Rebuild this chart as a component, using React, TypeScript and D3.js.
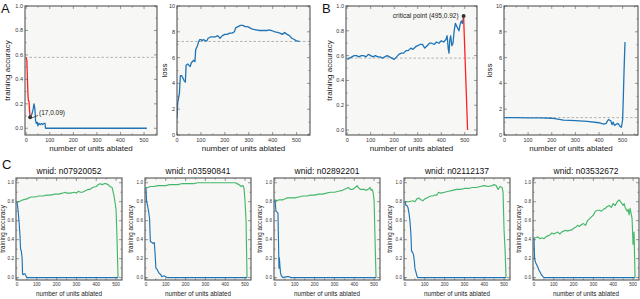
import React from "react";
import * as d3 from "d3";

type P = [number, number];

const xTicks = [0, 100, 200, 300, 400, 500];
const accTicks = [0, 0.2, 0.4, 0.6, 0.8, 1.0];
const lossTicks = [0, 2, 4, 6, 8, 10];

// Panel A
const aAccRed: P[] = [[0,0.58],[3,0.55],[5,0.42],[7,0.30],[9,0.23],[12,0.22],[14,0.15],[17,0.09]];
const aAccBlue: P[] = [[17,0.09],[20,0.10],[25,0.12],[30,0.16],[33,0.20],[36,0.17],[38,0.13],[40,0.06],[43,0.04],[47,0.05],[50,0.02],[55,0.04],[60,0.03],[65,0.04],[70,0.03],[75,0.04],[80,0.04],[82,0.0],[512,0.0]];
const aBaseline = 0.58;
const aLoss: P[] = [[0,1.3],[3,2.5],[6,2.8],[10,3.2],[14,4.6],[20,4.6],[25,4.4],[30,4.2],[35,4.1],[38,5.4],[45,5.5],[50,5.4],[55,5.3],[60,5.6],[65,5.7],[70,5.8],[75,5.7],[78,6.6],[85,6.9],[90,7.2],[95,7.4],[100,7.4],[105,7.3],[110,7.4],[120,7.3],[125,7.3],[130,7.5],[140,7.6],[150,7.6],[160,7.6],[170,7.7],[180,7.5],[190,7.7],[200,7.8],[210,7.8],[220,7.9],[230,7.9],[240,8.0],[245,8.3],[255,8.4],[265,8.5],[275,8.5],[285,8.4],[295,8.4],[305,8.3],[315,8.2],[330,8.15],[345,8.1],[360,8.1],[375,8.1],[385,8.15],[395,8.1],[410,8.0],[420,7.95],[430,7.9],[440,7.8],[450,7.95],[460,7.8],[470,7.7],[480,7.5],[490,7.4],[500,7.3],[512,7.25]];
const aLossBaseline = 7.25;

// Panel B
const bAccBlue: P[] = [[0,0.57],[10,0.58],[20,0.59],[30,0.60],[40,0.60],[50,0.59],[60,0.60],[70,0.60],[80,0.59],[90,0.61],[100,0.60],[110,0.59],[120,0.60],[130,0.59],[140,0.59],[150,0.58],[160,0.59],[170,0.60],[180,0.59],[190,0.58],[200,0.57],[210,0.59],[220,0.61],[230,0.62],[240,0.62],[250,0.64],[260,0.64],[270,0.66],[280,0.65],[290,0.67],[300,0.68],[310,0.69],[320,0.69],[330,0.66],[340,0.68],[350,0.70],[360,0.70],[370,0.69],[380,0.71],[390,0.70],[400,0.72],[410,0.71],[420,0.73],[425,0.76],[430,0.65],[433,0.62],[436,0.72],[440,0.76],[445,0.68],[450,0.70],[455,0.80],[460,0.86],[465,0.84],[470,0.82],[475,0.80],[480,0.85],[485,0.88],[490,0.86],[495,0.92]];
const bAccRed: P[] = [[495,0.92],[512,0.0]];
const bBaseline = 0.58;
const bLoss: P[] = [[0,1.35],[50,1.35],[100,1.33],[150,1.32],[200,1.3],[250,1.15],[300,1.12],[350,1.05],[400,0.95],[420,0.85],[430,0.9],[440,1.2],[450,1.1],[455,0.8],[460,1.0],[465,0.75],[470,0.8],[480,0.9],[490,0.65],[495,0.6],[500,1.2],[503,3.0],[506,5.0],[510,7.2]];
const bLossBaseline = 1.35;

// Panel C
const cTitles = ["wnid: n07920052","wnid: n03590841","wnid: n02892201","wnid: n02112137","wnid: n03532672"];
const c1Green: P[] = [[0,0.80],[10,0.80],[20,0.81],[30,0.82],[50,0.83],[70,0.85],[90,0.85],[110,0.86],[130,0.86],[150,0.87],[170,0.87],[190,0.88],[210,0.88],[230,0.89],[245,0.90],[250,0.89],[270,0.89],[290,0.90],[300,0.89],[310,0.91],[320,0.90],[330,0.90],[340,0.91],[350,0.92],[360,0.93],[370,0.93],[380,0.95],[400,0.96],[410,0.98],[420,0.99],[430,0.98],[440,0.99],[450,0.99],[460,0.98],[470,0.96],[480,0.95],[490,0.86],[500,0.72],[505,0.4],[510,0.0]];
const c1Blue: P[] = [[0,0.80],[5,0.72],[10,0.60],[15,0.45],[18,0.30],[22,0.28],[26,0.20],[28,0.05],[30,0.03],[35,0.04],[40,0.04],[45,0.02],[50,0.0],[510,0.0]];
const c2Green: P[] = [[0,0.95],[10,0.95],[20,0.96],[40,0.96],[60,0.97],[80,0.97],[100,0.97],[120,0.98],[140,0.98],[160,0.98],[180,0.99],[200,0.99],[220,0.99],[240,0.99],[260,1.0],[300,1.0],[350,1.0],[400,1.0],[450,1.0],[470,0.98],[480,0.96],[490,0.97],[495,0.94],[500,0.80],[505,0.6],[510,0.0]];
const c2Blue: P[] = [[0,0.95],[3,0.80],[8,0.76],[13,0.70],[18,0.62],[22,0.38],[30,0.37],[36,0.36],[42,0.37],[46,0.25],[50,0.10],[55,0.09],[60,0.07],[65,0.05],[75,0.03],[80,0.01],[90,0.02],[100,0.01],[108,0.0],[510,0.0]];
const c3Green: P[] = [[0,0.82],[10,0.81],[20,0.82],[40,0.82],[60,0.84],[80,0.84],[100,0.84],[120,0.85],[140,0.86],[160,0.86],[180,0.87],[200,0.87],[220,0.88],[240,0.88],[260,0.89],[280,0.90],[300,0.90],[320,0.91],[340,0.92],[360,0.94],[370,0.95],[380,0.93],[390,0.93],[400,0.94],[410,0.96],[415,0.97],[420,0.95],[430,0.93],[440,0.93],[450,0.93],[460,0.92],[470,0.93],[480,0.95],[485,0.92],[490,0.93],[495,0.90],[500,0.82],[505,0.4],[510,0.0]];
const c3Blue: P[] = [[0,0.82],[5,0.70],[10,0.69],[15,0.68],[18,0.35],[20,0.10],[22,0.21],[25,0.12],[28,0.05],[32,0.02],[40,0.0],[60,0.01],[70,0.01],[80,0.0],[510,0.0]];
const c4Green: P[] = [[0,0.80],[20,0.80],[40,0.81],[50,0.80],[60,0.83],[70,0.84],[80,0.82],[90,0.81],[100,0.83],[110,0.84],[120,0.85],[130,0.86],[140,0.86],[150,0.87],[160,0.87],[170,0.90],[180,0.89],[200,0.90],[220,0.91],[240,0.92],[260,0.93],[280,0.93],[300,0.94],[320,0.94],[340,0.95],[360,0.95],[380,0.96],[400,0.97],[420,0.96],[440,0.97],[450,0.98],[460,0.97],[470,0.93],[480,0.96],[490,0.95],[495,0.90],[500,0.50],[505,0.3],[510,0.0]];
const c4Blue: P[] = [[0,0.80],[5,0.76],[10,0.76],[15,0.74],[20,0.68],[25,0.60],[30,0.45],[33,0.28],[38,0.27],[43,0.24],[47,0.18],[50,0.10],[55,0.06],[60,0.02],[65,0.0],[510,0.0]];
const c5Green: P[] = [[0,0.42],[10,0.42],[20,0.43],[30,0.41],[40,0.42],[50,0.41],[60,0.43],[70,0.44],[80,0.45],[90,0.47],[100,0.46],[110,0.47],[120,0.48],[130,0.46],[140,0.48],[150,0.49],[160,0.50],[170,0.49],[180,0.50],[190,0.50],[200,0.52],[210,0.53],[220,0.55],[230,0.54],[240,0.56],[250,0.57],[260,0.55],[270,0.60],[280,0.62],[290,0.64],[300,0.66],[310,0.70],[320,0.71],[330,0.71],[340,0.70],[350,0.72],[360,0.73],[370,0.75],[380,0.76],[390,0.74],[400,0.78],[410,0.76],[420,0.80],[430,0.82],[440,0.79],[450,0.76],[455,0.78],[460,0.74],[470,0.70],[475,0.72],[480,0.66],[485,0.73],[490,0.68],[495,0.62],[500,0.35],[505,0.48],[510,0.0]];
const c5Blue: P[] = [[0,0.42],[3,0.20],[8,0.16],[15,0.13],[25,0.08],[35,0.04],[45,0.01],[50,0.0],[510,0.0]];

const cGreens = [c1Green, c2Green, c3Green, c4Green, c5Green];
const cBlues = [c1Blue, c2Blue, c3Blue, c4Blue, c5Blue];

const BLUE = "#1f74b6";
const GREEN = "#44b86a";
const RED = "#ff2020";
const FRAME = "#555";
const BG = "#f7f7f5";
const FONT = "Liberation Sans, Arial, sans-serif";

type Series = { data: P[]; color: string };

function Panel(props: {
  left: number; right: number; top: number; bottom: number;
  xDomain: [number, number]; yDomain: [number, number];
  yTicks: number[]; yFmt: (v: number) => string; yMinorStep: number;
  series: Series[]; baseline?: number; lineWidth: number;
  ylabel: string; ylabelX: number; labelSize: number; tickSize: number;
  xlabelY: number; title?: string; titleY?: number;
  children?: (x: d3.ScaleLinear<number, number>, y: d3.ScaleLinear<number, number>) => React.ReactNode;
}) {
  const { left, right, top, bottom } = props;
  const x = d3.scaleLinear().domain(props.xDomain).range([left, right]);
  const y = d3.scaleLinear().domain(props.yDomain).range([bottom, top]);
  const line = d3.line<P>().x(d => x(d[0])).y(d => y(d[1]));
  const xMinor = d3.range(0, props.xDomain[1], 50).filter(v => v >= props.xDomain[0]);
  const yMinor = d3.range(props.yTicks[0], props.yDomain[1] + 1e-9, props.yMinorStep);
  const cx = (left + right) / 2;
  const cy = (top + bottom) / 2;
  const L = 3, l = 1.5;
  return (
    <g>
      <rect x={left} y={top} width={right - left} height={bottom - top} fill={BG} />
      {props.baseline !== undefined && (
        <line x1={left} x2={right} y1={y(props.baseline)} y2={y(props.baseline)} stroke="#aaa" strokeWidth={0.9} strokeDasharray="2.5,2" />
      )}
      <clipPath id={`clip-${left}-${top}`}>
        <rect x={left} y={top - 2} width={right - left} height={bottom - top + 4} />
      </clipPath>
      <g clipPath={`url(#clip-${left}-${top})`}>
        {props.series.map((s, i) => (
          <path key={i} d={line(s.data) || ""} fill="none" stroke={s.color} strokeWidth={props.lineWidth} strokeLinejoin="round" />
        ))}
      </g>
      {xMinor.map(v => {
        const major = v % 100 === 0;
        const len = major ? L : l;
        return (
          <g key={"xm" + v}>
            <line x1={x(v)} x2={x(v)} y1={bottom} y2={bottom - len} stroke={FRAME} strokeWidth={0.6} />
            <line x1={x(v)} x2={x(v)} y1={top} y2={top + len} stroke={FRAME} strokeWidth={0.6} />
          </g>
        );
      })}
      {yMinor.map((v, i) => {
        const major = props.yTicks.some(t => Math.abs(t - v) < 1e-6);
        const len = major ? L : l;
        return (
          <g key={"ym" + i}>
            <line x1={left} x2={left + len} y1={y(v)} y2={y(v)} stroke={FRAME} strokeWidth={0.6} />
            <line x1={right} x2={right - len} y1={y(v)} y2={y(v)} stroke={FRAME} strokeWidth={0.6} />
          </g>
        );
      })}
      {xTicks.map(v => (
        <text key={"xt" + v} x={x(v)} y={bottom + props.tickSize + 1} fontSize={props.tickSize} textAnchor="middle" fill="#333" fontFamily={FONT}>{v}</text>
      ))}
      {props.yTicks.map(v => (
        <text key={"yt" + v} x={left - 2} y={y(v) + props.tickSize * 0.35} fontSize={props.tickSize} textAnchor="end" fill="#333" fontFamily={FONT}>{props.yFmt(v)}</text>
      ))}
      <rect x={left} y={top} width={right - left} height={bottom - top} fill="none" stroke={FRAME} strokeWidth={1.1} />
      <text x={cx} y={props.xlabelY} fontSize={props.labelSize} textAnchor="middle" fill="#222" fontFamily={FONT}>number of units ablated</text>
      <text transform={`translate(${props.ylabelX},${cy}) rotate(-90)`} fontSize={props.labelSize} textAnchor="middle" fill="#222" fontFamily={FONT}>{props.ylabel}</text>
      {props.title && (
        <text x={cx} y={props.titleY} fontSize={8.5} textAnchor="middle" fill="#111" fontFamily={FONT}>{props.title}</text>
      )}
      {props.children && props.children(x, y)}
    </g>
  );
}

const f1 = (v: number) => v.toFixed(1);
const f0 = (v: number) => String(v);

export default function App() {
  const cLefts = [16, 145, 274, 404, 533];
  const cW = 106;
  return (
    <svg width={640} height={299} style={{ position: "absolute", left: 0, top: 0, background: "#fff" }}>
      <text x={1} y={13} fontSize={13} fontFamily={FONT} fill="#111">A</text>
      <text x={322} y={13} fontSize={13} fontFamily={FONT} fill="#111">B</text>
      <text x={2} y={169} fontSize={13} fontFamily={FONT} fill="#111">C</text>

      <Panel left={25} right={157} top={6} bottom={135} xDomain={[-5, 555]} yDomain={[-0.055, 1.0]}
        yTicks={accTicks} yFmt={f1} yMinorStep={0.1} lineWidth={1.3}
        series={[{ data: aAccBlue, color: BLUE }, { data: aAccRed, color: RED }]} baseline={aBaseline}
        ylabel="training accuracy" ylabelX={10} labelSize={8} tickSize={5.5} xlabelY={151}>
        {(x, y) => (
          <g>
            <line x1={38} y1={y(0.105)} x2={x(17) + 2} y2={y(0.09) + 0.5} stroke="#222" strokeWidth={0.7} />
            <circle cx={x(17)} cy={y(0.09)} r={2} fill="#333" />
            <text x={39} y={y(0.09) - 2} fontSize={6.5} fontFamily={FONT} fill="#222">(17,0.09)</text>
          </g>
        )}
      </Panel>

      <Panel left={177} right={310} top={6} bottom={135} xDomain={[0, 556]} yDomain={[0, 10]}
        yTicks={lossTicks} yFmt={f0} yMinorStep={1} lineWidth={1.3}
        series={[{ data: aLoss, color: BLUE }]} baseline={aLossBaseline}
        ylabel="loss" ylabelX={167} labelSize={8} tickSize={5.5} xlabelY={151} />

      <Panel left={346} right={477} top={6} bottom={135} xDomain={[-5, 552]} yDomain={[-0.04, 1.0]}
        yTicks={accTicks} yFmt={f1} yMinorStep={0.1} lineWidth={1.3}
        series={[{ data: bAccBlue, color: BLUE }, { data: bAccRed, color: RED }]} baseline={bBaseline}
        ylabel="training accuracy" ylabelX={332} labelSize={8} tickSize={5.5} xlabelY={151}>
        {(x, y) => (
          <g>
            <circle cx={x(495)} cy={y(0.92)} r={2} fill="#333" />
            <text x={x(495) - 5} y={y(0.92) + 2.5} fontSize={6.5} textAnchor="end" fontFamily={FONT} fill="#222">critical point (495,0.92)</text>
          </g>
        )}
      </Panel>

      <Panel left={504} right={638} top={6} bottom={135} xDomain={[-2, 565]} yDomain={[0, 10]}
        yTicks={lossTicks} yFmt={f0} yMinorStep={1} lineWidth={1.3}
        series={[{ data: bLoss, color: BLUE }]} baseline={bLossBaseline}
        ylabel="loss" ylabelX={492} labelSize={8} tickSize={5.5} xlabelY={151} />

      {cLefts.map((l, i) => (
        <Panel key={i} left={l} right={l + cW} top={178} bottom={280} xDomain={[-5, 530]} yDomain={[-0.025, 1.05]}
          yTicks={accTicks} yFmt={f1} yMinorStep={0.1} lineWidth={1.15}
          series={[{ data: cGreens[i], color: GREEN }, { data: cBlues[i], color: BLUE }]}
          ylabel="training accuracy" ylabelX={Math.max(l - 12, 4.5)} labelSize={6.3} tickSize={4.6} xlabelY={296}
          title={cTitles[i]} titleY={174} />
      ))}
    </svg>
  );
}
